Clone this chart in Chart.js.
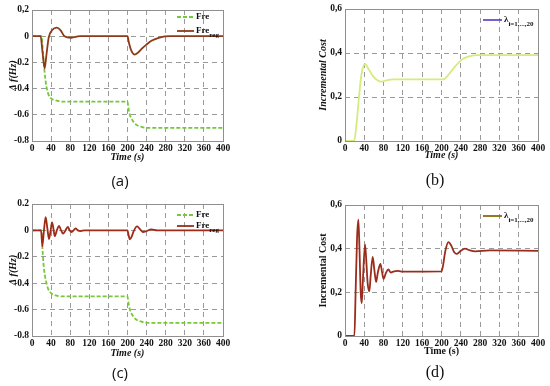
<!DOCTYPE html>
<html>
<head>
<meta charset="utf-8">
<script src="https://cdn.jsdelivr.net/npm/chart.js@4"></script>
<style>
  body { margin: 0; background: #fff; width: 550px; height: 386px; position: relative; overflow: hidden; }
  canvas { position: absolute; }
  .tag { position: absolute; transform: translate(-50%, -50%); color: #111; }
</style>
</head>
<body>
<canvas id="chartA" width="275" height="193" style="left:0;top:0"></canvas>
<canvas id="chartB" width="275" height="193" style="left:275px;top:0"></canvas>
<canvas id="chartC" width="275" height="193" style="left:0;top:193px"></canvas>
<canvas id="chartD" width="275" height="193" style="left:275px;top:193px"></canvas>
<div class="tag" style="left:120px;top:180px;font:15px 'Open Sans'">(a)</div>
<div class="tag" style="left:435px;top:180px;font:16px 'Liberation Serif'">(b)</div>
<div class="tag" style="left:120px;top:372px;font:15px 'Open Sans'">(c)</div>
<div class="tag" style="left:435px;top:372px;font:16px 'Liberation Serif'">(d)</div>
<script>
// ---- datos ----
const yTicksA = ['-0.8', '-0.6', '-0.4', '-0.2', '0', '0,2'];
const yTicksC = ['-0.8', '-0.6', '-0.4', '-0.2', '0', '0.2'];
const yTicksB = ['0', '0,2', '0,4', '0,6'];

// (a) frecuencia
const tFreA = [0, 20, 23, 26, 30, 34, 40, 50, 65, 200, 202, 205, 210, 218, 228, 240, 400];
const freA  = [0, 0, -0.12, -0.26, -0.38, -0.44, -0.475, -0.49, -0.5, -0.5, -0.55, -0.6, -0.64, -0.675, -0.69, -0.7, -0.7];
const tRegA = [0, 18, 22, 26.5, 30, 35, 42, 52, 60, 68, 82, 100, 200, 203, 208, 215, 222, 230, 239, 250, 267, 290, 400];
const regA  = [0, 0, -0.12, -0.245, -0.15, -0.01, 0.045, 0.066, 0.045, 0, -0.012, 0, 0, -0.05, -0.11, -0.14, -0.125, -0.095, -0.066, -0.035, -0.01, 0, 0];

// (b) costo incremental
const tLamB = [0, 19, 24, 29, 34, 41.5, 48, 58, 68, 76, 88, 100, 204, 212, 225, 242, 258, 275, 400];
const lamB  = [0, 0, 0.08, 0.2, 0.3, 0.35, 0.33, 0.295, 0.275, 0.27, 0.277, 0.28, 0.28, 0.295, 0.33, 0.37, 0.385, 0.39, 0.39];

// (c) frecuencia
const tFreC = [0, 20, 21.6, 24, 27, 30, 34, 40, 50, 62, 200, 202, 205, 210, 218, 228, 240, 400];
const freC  = [0, 0, -0.12, -0.25, -0.34, -0.395, -0.445, -0.475, -0.493, -0.5, -0.5, -0.55, -0.6, -0.64, -0.675, -0.69, -0.7, -0.7];
const tRegC = [0, 19, 21.6, 25, 28.6, 32, 35.6, 39, 42, 45, 47.5, 52, 56.5, 61, 65, 70, 75, 79, 83, 87, 91, 96, 102, 110, 200, 202, 205, 209, 213, 220, 226, 232, 240, 250, 262, 400];
const regC  = [0, 0, -0.12, 0, 0.1, 0.02, -0.065, 0, 0.06, 0.01, -0.044, 0, 0.034, 0, -0.025, 0, 0.026, 0, -0.012, 0, 0.016, 0, -0.005, 0, 0, -0.03, -0.068, -0.045, -0.005, 0.03, 0.01, -0.012, -0.005, 0.008, 0, 0];

// (d) costo incremental
const tLamD = [0, 19.5, 22, 25, 27.7, 30, 32.5, 34.6, 37, 41.5, 44, 47, 50.5, 53, 57.4, 61, 64.4, 68, 73.4, 77, 80, 85, 90, 95, 100, 110, 120, 200, 203, 208, 214.5, 220, 226, 232, 240, 249, 258, 270, 300, 400];
const lamD  = [0, 0, 0.2, 0.45, 0.533, 0.4, 0.2, 0.15, 0.25, 0.42, 0.35, 0.24, 0.205, 0.27, 0.362, 0.3, 0.247, 0.29, 0.33, 0.29, 0.262, 0.29, 0.305, 0.29, 0.295, 0.298, 0.295, 0.296, 0.32, 0.39, 0.43, 0.415, 0.385, 0.376, 0.39, 0.4, 0.393, 0.388, 0.392, 0.39];

const pares = (t, v) => t.map((x, i) => ({ x: x, y: v[i] }));

const serif = 'Liberation Serif';

// marco y leyenda con subindice
const marcoLeyenda = {
  id: 'marcoLeyenda',
  afterDraw(chart, args, opts) {
    const { ctx, chartArea: a } = chart;
    ctx.save();
    ctx.strokeStyle = '#8f8f8f';
    ctx.lineWidth = 1;
    ctx.setLineDash([]);
    ctx.strokeRect(a.left + 0.5, a.top + 0.5, a.right - a.left, a.bottom - a.top);
    (opts.items || []).forEach(it => {
      ctx.strokeStyle = it.color;
      ctx.lineWidth = 1.8;
      ctx.setLineDash(it.dash || []);
      ctx.beginPath();
      ctx.moveTo(it.x, it.y);
      ctx.lineTo(it.x + it.w, it.y);
      ctx.stroke();
      ctx.setLineDash([]);
      ctx.fillStyle = '#111';
      ctx.textBaseline = 'middle';
      ctx.font = 'bold 9px "' + serif + '"';
      const tx = it.x + it.w + 2;
      ctx.fillText(it.text, tx, it.y);
      if (it.sub) {
        const wt = ctx.measureText(it.text).width;
        ctx.font = 'bold 7px "' + serif + '"';
        ctx.fillText(it.sub, tx + wt, it.y + 4);
      }
    });
    ctx.restore();
  }
};

function hacerGrafica(id, cfg) {
  const ctx = document.getElementById(id).getContext('2d');
  return new Chart(ctx, {
    type: 'line',
    data: { datasets: cfg.datasets },
    plugins: [marcoLeyenda],
    options: {
      responsive: false,
      animation: false,
      devicePixelRatio: 1,
      layout: { padding: cfg.padding },
      elements: { point: { radius: 0 }, line: { borderWidth: 1.8, cubicInterpolationMode: 'monotone' } },
      plugins: {
        legend: { display: false },
        tooltip: { enabled: false },
        marcoLeyenda: { items: cfg.legend }
      },
      scales: {
        x: {
          type: 'linear', min: 0, max: 400,
          afterFit: s => { s.height = cfg.xh; },
          ticks: { stepSize: 40, autoSkip: false, maxRotation: 0, padding: 2, color: '#111',
                   font: { family: serif, size: 9.5, weight: 'bold' } },
          grid: { color: '#9a9a9a', drawTicks: false },
          border: { display: false, dash: [5, 4] },
          title: { display: true, text: 'Time (s)', color: '#111', padding: { top: 0, bottom: cfg.xtPad },
                   font: { family: serif, size: 10, weight: 'bold', style: cfg.italicX ? 'italic' : 'normal' } }
        },
        y: {
          min: cfg.ymin, max: cfg.ymax,
          afterFit: s => { s.width = cfg.yw; },
          ticks: { stepSize: 0.2, padding: 3, color: '#111',
                   font: { family: serif, size: 9.5, weight: 'bold' },
                   callback: (v, i) => cfg.yLabels[i] },
          grid: { color: '#9a9a9a', drawTicks: false },
          border: { display: false, dash: [5, 4] },
          title: { display: true, text: cfg.ytitle, color: '#111', padding: { top: cfg.ytPad, bottom: 0 },
                   font: { family: serif, size: 10, weight: 'bold', style: cfg.italicY ? 'italic' : 'normal' } }
        }
      }
    }
  });
}

hacerGrafica('chartA', {
  padding: { left: 0, top: 10, right: 52, bottom: 0 }, yw: 32, xh: 52, xtPad: 30, ytPad: 7,
  ymin: -0.8, ymax: 0.2, yLabels: yTicksA, ytitle: 'Δ f(Hz)', italicX: true, italicY: true,
  datasets: [
    { label: 'Fre_reg', data: pares(tRegA, regA), borderColor: '#8c3a18' },
    { label: 'Fre', data: pares(tFreA, freA), borderColor: '#74c83a', borderDash: [4, 2] }
  ],
  legend: [
    { x: 177, y: 17, w: 17, text: 'Fre', color: '#74c83a', dash: [4, 2] },
    { x: 177, y: 31, w: 17, text: 'Fre', sub: 'reg', color: '#8c3a18' }
  ]
});

hacerGrafica('chartB', {
  padding: { left: 0, top: 9, right: 12, bottom: 0 }, yw: 70, xh: 52, xtPad: 32, ytPad: 42,
  ymin: 0, ymax: 0.6, yLabels: yTicksB, ytitle: 'Incremental Cost', italicX: true, italicY: true,
  datasets: [
    { label: 'λ', data: pares(tLamB, lamB), borderColor: '#d4eb7e' }
  ],
  legend: [
    { x: 208, y: 20, w: 19, text: 'λ', sub: 'i=1,...,20', color: '#6a4fc2' }
  ]
});

hacerGrafica('chartC', {
  padding: { left: 0, top: 11, right: 52, bottom: 0 }, yw: 32, xh: 50, xtPad: 27, ytPad: 7,
  ymin: -0.8, ymax: 0.2, yLabels: yTicksC, ytitle: 'Δ f(Hz)', italicX: true, italicY: true,
  datasets: [
    { label: 'Fre_reg', data: pares(tRegC, regC), borderColor: '#a02a18' },
    { label: 'Fre', data: pares(tFreC, freC), borderColor: '#7ac83a', borderDash: [4, 2] }
  ],
  legend: [
    { x: 177, y: 22, w: 17, text: 'Fre', color: '#7ac83a', dash: [4, 2] },
    { x: 177, y: 33, w: 17, text: 'Fre', sub: 'reg', color: '#a02a18' }
  ]
});

hacerGrafica('chartD', {
  padding: { left: 0, top: 12, right: 12, bottom: 0 }, yw: 70, xh: 50, xtPad: 29, ytPad: 42,
  ymin: 0, ymax: 0.6, yLabels: yTicksB, ytitle: 'Incremental Cost', italicX: false, italicY: false,
  datasets: [
    { label: 'λ', data: pares(tLamD, lamD), borderColor: '#9a2c1c' }
  ],
  legend: [
    { x: 208, y: 23, w: 19, text: 'λ', sub: 'i=1,...,20', color: '#8a6a12' }
  ]
});
</script>
</body>
</html>
